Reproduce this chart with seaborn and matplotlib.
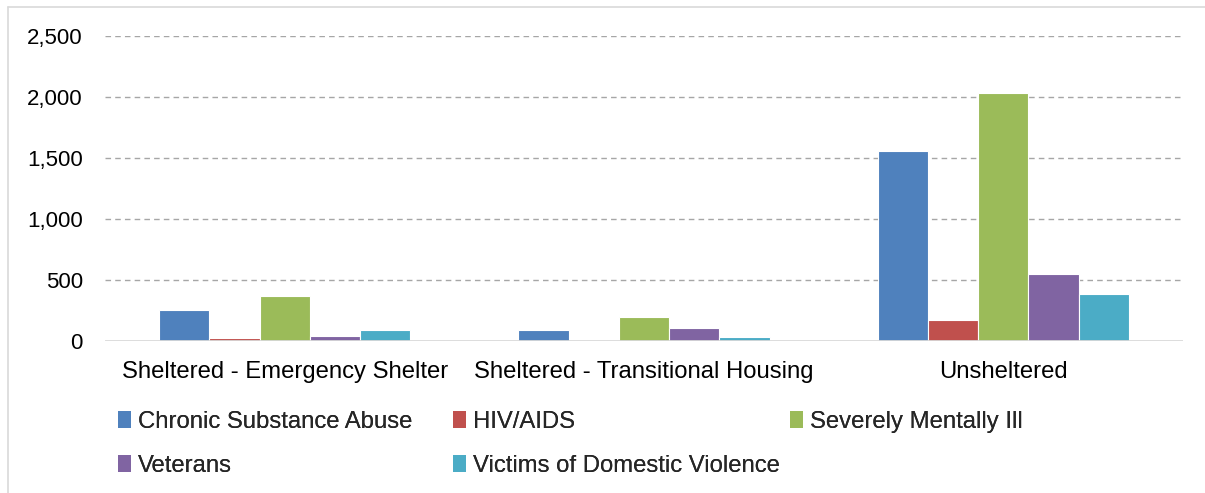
import matplotlib
matplotlib.use("Agg")
import matplotlib.pyplot as plt
from matplotlib.lines import Line2D
from matplotlib.patches import Patch
import seaborn as sns
import pandas as pd
from matplotlib.ticker import FuncFormatter, MultipleLocator

categories = ["Sheltered - Emergency Shelter", "Sheltered - Transitional Housing", "Unsheltered"]
series_names = ["Chronic Substance Abuse", "HIV/AIDS", "Severely Mentally Ill",
                "Veterans", "Victims of Domestic Violence"]
chronic = [252, 88, 1558]
hiv = [25, 8, 172]
mental = [370, 195, 2030]
veterans = [38, 104, 546]
victims = [88, 30, 386]
colors = ["#4F81BD", "#C0504D", "#9BBB59", "#8064A2", "#4BACC6"]

values = [chronic, hiv, mental, veterans, victims]
rows = []
for s, vals in zip(series_names, values):
    for c, v in zip(categories, vals):
        rows.append({"Category": c, "Series": s, "Value": v})
df = pd.DataFrame(rows)

sns.set_theme(style="white")
plt.rcParams["font.family"] = ["Liberation Sans", "DejaVu Sans"]

fig = plt.figure(figsize=(12.05, 4.93), dpi=100)
ax = fig.add_axes([105 / 1205, 1 - 341 / 493, (1183 - 105) / 1205, (341 - 36) / 493])

sns.barplot(data=df, x="Category", y="Value", hue="Series", order=categories,
            hue_order=series_names, palette=colors, saturation=1, width=0.7, ax=ax,
            edgecolor="white", linewidth=0.8, legend=False, errorbar=None)

ax.set_ylim(0, 2500)
ax.set_xlim(-0.5, 2.5)
ax.yaxis.set_major_locator(MultipleLocator(500))
ax.yaxis.set_major_formatter(FuncFormatter(lambda v, p: f"{int(v):,}"))
ax.set_xlabel("")
ax.set_ylabel("")
for sp in ax.spines.values():
    sp.set_visible(False)
ax.grid(False)
for yv in [500, 1000, 1500, 2000, 2500]:
    ax.axhline(yv, color="#A6A6A6", linestyle=(0, (4, 3)), linewidth=1, zorder=0)
ax.axhline(0, color="#D9D9D9", linewidth=2, zorder=3)

ax.tick_params(axis="y", labelsize=16, length=0, pad=16, colors="black")
ax.tick_params(axis="x", labelsize=17.2, length=0, pad=14.5, colors="black")

# legend in three columns, row-major
handles = [Patch(facecolor=c, edgecolor="none") for c in colors]
col_groups = [([0, 3], 118 / 1205), ([1, 4], 453 / 1205), ([2], 790 / 1205)]
for idx, xpos in col_groups:
    leg = fig.legend([handles[i] for i in idx], [series_names[i] for i in idx],
                     loc="upper left", bbox_to_anchor=(xpos, 1 - 411 / 493),
                     frameon=False, fontsize=17.2, handlelength=0.56, handleheight=0.7,
                     handletextpad=0.27, labelspacing=0.9, borderaxespad=0, borderpad=0)
    fig.add_artist(leg)

# outer frame (top and left)
fig.add_artist(Line2D([8 / 1205, 1], [1 - 6.5 / 493, 1 - 6.5 / 493], color="#D9D9D9",
                      linewidth=1.2, transform=fig.transFigure))
fig.add_artist(Line2D([8 / 1205, 8 / 1205], [0, 1 - 6.5 / 493], color="#D9D9D9",
                      linewidth=1.2, transform=fig.transFigure))

fig.savefig("out.png", dpi=100, facecolor="white")
